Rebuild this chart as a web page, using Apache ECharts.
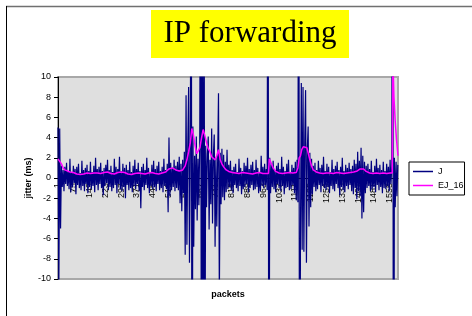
<!DOCTYPE html>
<html>
<head>
<meta charset="utf-8">
<script src="https://cdn.jsdelivr.net/npm/echarts@6/dist/echarts.min.js"></script>
<style>
html,body{margin:0;padding:0;background:#fff;}
#c{width:472px;height:316px;}
</style>
</head>
<body>
<div id="c"></div>
<script>
// ---- data ----
var packetCount = 1594;           // packets 1..1594
var xTickLabels = ['1','75','149','223','297','371','445','519','593','667','741','815','889','963','1037','1111','1185','1259','1333','1407','1481','1555'];
var yTickLabels = ['-10','-8','-6','-4','-2','0','2','4','6','8','10'];
var jStep = 4;                     // J is read every 4th packet
var jValues = [
 5.0,-11,4.9,-5.0,1.2,-0.9,0.8,-1.3,1.1,-0.6,
 1.5,-0.8,0.7,-1.1,1.9,-1.4,0.6,-0.9,1.2,-0.5,
 0.9,-1.6,1.1,-0.7,1.4,-1.0,0.5,-1.2,1.7,-0.8,
 0.8,-1.3,1.0,-0.6,1.3,-1.5,0.7,-0.9,1.6,-1.1,
 0.6,-0.8,1.2,-1.4,2.0,-0.7,0.9,-1.2,1.1,-0.6,
 1.5,-1.0,0.7,-1.7,1.0,-0.8,1.3,-0.5,1.8,-1.2,
 0.8,-0.9,1.2,-1.3,0.6,-1.0,1.9,-0.7,1.1,-1.5,
 0.9,-0.6,2.1,-1.1,0.7,-1.3,1.4,-0.9,1.0,-2.0,
 1.3,-0.7,0.8,-1.2,1.6,-1.0,0.6,-1.4,1.2,-0.8,
 1.8,-1.1,0.9,-0.6,1.5,-1.3,0.7,-3.0,1.1,-0.9,
 1.4,-1.2,0.8,-0.7,2.0,-1.0,1.0,-1.5,0.6,-0.8,
 1.3,-1.1,1.7,-0.9,0.9,-1.3,1.2,-0.6,1.6,-1.2,
 0.7,-1.0,1.1,-1.4,1.9,-0.8,0.8,-1.1,1.4,-3.4,
 4.0,-1.8,1.5,-1.2,1.0,-0.9,1.8,-1.3,1.2,-1.0,
 1.6,-1.2,2.1,-2.5,1.4,-3.3,1.8,-1.5,2.6,-7.6,
 8.2,-6.6,3.0,9.0,-8.4,2.4,40,-40,5.1,-6.8,
 2.2,-3.1,4.1,-4.2,1.9,-2.7,3.4,30,-30,25,
 -35,30,-25,3.2,-2.9,2.4,4.1,-5.1,1.8,-2.6,
 4.9,-4.5,2.2,4.3,-6.8,2.0,-4.8,1.7,8.4,-12,
 2.5,
 -2.6,2.9,-1.9,2.3,-2.2,1.6,-1.4,2.8,-1.1,1.3,
 -0.9,1.7,-1.2,0.8,-1.5,1.1,-0.7,1.4,-1.0,0.6,
 -1.3,1.9,-0.8,1.0,-1.6,0.7,-1.1,1.5,-0.9,1.2,
 -0.6,2.0,-1.4,0.9,-1.0,1.3,-0.7,1.6,-1.2,0.8,
 -1.1,1.8,-0.9,1.0,-1.5,0.6,-1.3,2.2,-0.8,1.1,
 -1.0,1.4,-0.7,0.9,-1.2,
 40,-40,2.0,
 -1.5,1.3,-0.9,1.7,-1.1,0.8,-1.4,1.2,-0.6,1.5,
 -1.0,0.9,-1.3,2.1,-0.8,1.1,-1.6,0.7,-1.0,1.4,
 -0.9,1.8,-1.2,0.6,-1.1,1.3,-0.7,1.0,-1.5,1.6,-2.2,
 1.8,-2.4,40,-40,-6.0,9.4,-7.1,9.0,-7.3,3.5,
 8.7,-8.4,2.8,5.1,-4.8,2.5,-2.9,
 1.9,-1.6,1.2,-0.9,1.5,-1.3,0.8,-1.1,1.7,-0.7,
 1.0,-1.4,1.3,-0.8,2.1,-1.0,0.7,-1.2,1.4,-0.9,
 1.1,-1.5,0.6,-0.8,1.8,-1.1,0.9,-1.3,1.2,-0.6,
 1.6,-1.0,0.8,-1.7,1.1,-0.9,2.0,-1.2,0.7,-1.4,
 1.3,-0.8,1.0,-1.1,1.5,-0.7,0.9,-1.3,
 1.2,-1.6,1.8,-1.0,1.4,-2.1,2.6,-1.3,1.7,-1.8,
 3.0,-4.0,2.2,-3.4,1.6,-1.5,1.2,-1.0,
 1.4,-0.8,0.9,-1.3,1.7,-1.1,0.6,-0.9,1.2,-1.4,
 1.9,-0.7,1.0,-1.2,1.3,-0.9,0.8,-1.5,1.6,-1.0,
 0.7,-1.1,1.4,-0.8,1.1,-1.3,1.8,-0.6,1.2,
 60,-60,2.0,-2.9,1.6,-1.8,1.3
];
var ejPackets = [0,8,16,24,32,40,56,72,88,104,120,136,152,168,184,200,216,232,248,264,280,296,312,328,344,360,376,392,408,424,440,456,472,488,504,520,536,552,568,584,596,604,612,620,627,634,642,650,658,665,672,680,688,696,704,712,720,728,736,744,752,760,768,776,788,800,816,832,848,864,880,896,912,928,944,960,976,986,990,998,1008,1020,1036,1052,1068,1084,1100,1116,1124,1130,1136,1142,1150,1158,1166,1172,1180,1188,1196,1210,1226,1242,1258,1274,1290,1306,1322,1338,1354,1370,1386,1402,1416,1424,1432,1444,1460,1476,1492,1508,1524,1540,1556,1566,1569,1574,1580,1586,1593];
var ejValues = [1.9,1.8,1.4,1.0,0.8,0.65,0.6,0.55,0.4,0.35,0.4,0.5,0.45,0.5,0.5,0.45,0.55,0.6,0.45,0.4,0.55,0.6,0.55,0.4,0.35,0.45,0.5,0.45,0.4,0.5,0.55,0.45,0.4,0.5,0.6,0.9,1.0,0.8,0.7,0.8,1.2,1.8,2.6,3.5,4.9,4.3,3.2,2.4,2.3,3.0,3.9,4.8,4.2,3.5,2.9,2.6,2.1,2.0,1.8,2.2,2.8,1.8,1.4,1.1,0.8,0.65,0.55,0.5,0.45,0.55,0.5,0.45,0.4,0.5,0.55,0.45,0.45,0.45,1.9,1.5,1.0,0.65,0.5,0.45,0.5,0.55,0.5,0.55,1.0,2.0,2.2,2.8,3.1,3.2,3.0,2.5,1.8,1.2,0.8,0.6,0.5,0.45,0.5,0.5,0.45,0.55,0.5,0.45,0.5,0.55,0.6,0.7,0.9,1.05,0.9,0.65,0.5,0.45,0.5,0.45,0.5,0.45,0.5,0.5,12,8.0,5.6,3.8,2.2];

// ---- build ----
var categories = [];
for (var i = 0; i < packetCount; i++) categories.push(String(i + 1));
var jData = jValues.map(function (v, k) { return [k * jStep, v]; });
var ejData = ejValues.map(function (v, k) { return [ejPackets[k], v]; });

var FONT = 'Liberation Sans, Arial, sans-serif';
var chart = echarts.init(document.getElementById('c'), null, {renderer: 'canvas'});
chart.setOption({
  animation: false,
  backgroundColor: '#ffffff',
  grid: {
    left: 58, right: 74, top: 77, bottom: 37,
    show: true, backgroundColor: '#dfdfdf', borderColor: '#a8a8a8', borderWidth: 2,
    containLabel: false, outerBoundsMode: 'none'
  },
  legend: {
    orient: 'vertical', left: 409, top: 162,
    data: [{name: 'J', icon: 'rect'}, {name: 'EJ_16', icon: 'rect'}],
    itemWidth: 20, itemHeight: 1.5, itemGap: 3,
    padding: [4, 1, 4, 4],
    borderColor: '#000', borderWidth: 1, backgroundColor: '#fff',
    textStyle: {fontSize: 9, fontFamily: FONT, color: '#000', lineHeight: 11}
  },
  xAxis: {
    type: 'category', data: categories, boundaryGap: false,
    offset: -101,
    name: 'packets', nameLocation: 'middle', nameGap: 112, nameMoveOverlap: false,
    nameTextStyle: {fontSize: 9, fontWeight: 'bold', fontFamily: FONT, color: '#000'},
    axisLine: {onZero: false, lineStyle: {color: '#000', width: 1}},
    axisTick: {show: false},
    axisLabel: {
      interval: 73, rotate: 90, margin: 5, fontSize: 9, fontFamily: FONT, color: '#000',
      formatter: function (val, idx) { return xTickLabels[Math.round(idx / 74)] || val; }
    },
    splitLine: {show: false}
  },
  yAxis: {
    type: 'value', min: -10, max: 10, interval: 2,
    name: 'jitter (ms)', nameLocation: 'middle', nameGap: 25, nameMoveOverlap: false,
    nameTextStyle: {fontSize: 9, fontWeight: 'bold', fontFamily: FONT, color: '#000'},
    axisLine: {show: true, lineStyle: {color: '#000', width: 1}},
    axisTick: {show: true, length: 4, lineStyle: {color: '#000'}},
    axisLabel: {
      margin: 7, fontSize: 9, fontFamily: FONT, color: '#000',
      formatter: function (v) { return yTickLabels[Math.round((v + 10) / 2)]; }
    },
    splitLine: {show: false}
  },
  series: [
    {name: 'J', type: 'line', data: jData, symbol: 'none', clip: true,
     lineStyle: {color: '#000080', width: 1.2}, itemStyle: {color: '#000080'}, z: 2},
    {name: 'EJ_16', type: 'line', data: ejData, symbol: 'none', clip: true,
     lineStyle: {color: '#ff00ff', width: 1.5}, itemStyle: {color: '#ff00ff'}, z: 3}
  ],
  graphic: [
    {type: 'line', shape: {x1: 6, y1: 6.5, x2: 472, y2: 6.5}, style: {stroke: '#707070', lineWidth: 1.5}},
    {type: 'line', shape: {x1: 6.5, y1: 6, x2: 6.5, y2: 316}, style: {stroke: '#000', lineWidth: 1}},
    {type: 'rect', shape: {x: 151, y: 10, width: 198, height: 48}, style: {fill: '#ffff00'}},
    {type: 'text', x: 250, y: 34, style: {text: 'IP forwarding', font: '31px "Liberation Serif", "Times New Roman", serif', fill: '#000', align: 'center', verticalAlign: 'middle'}}
  ]
});
</script>
</body>
</html>
